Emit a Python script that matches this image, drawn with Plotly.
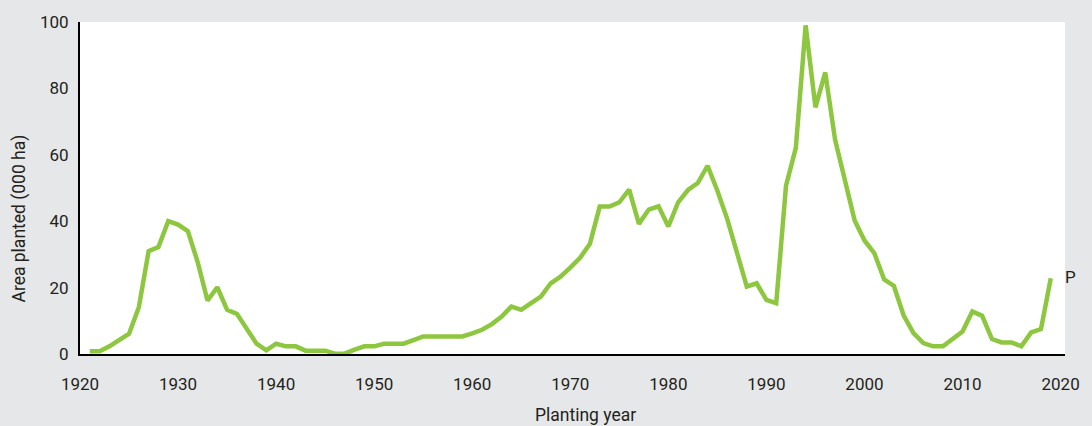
import plotly.graph_objects as go

# planting year and area planted (000 ha)
years = list(range(1921, 2020))
area = [
    0.8, 0.8, 2.3, 4.3, 6.1, 14.1, 31.0, 32.2, 40.0, 39.0,       # 1921-1930
    37.0, 27.7, 16.1, 20.1, 13.3, 12.1, 7.3, 3.1, 1.1, 3.1,      # 1931-1940
    2.3, 2.3, 1.0, 1.0, 1.0, 0.1, 0.1, 1.3, 2.3, 2.3,            # 1941-1950
    3.1, 3.1, 3.1, 4.2, 5.3, 5.3, 5.3, 5.3, 5.3, 6.2,            # 1951-1960
    7.3, 9.0, 11.3, 14.3, 13.3, 15.3, 17.3, 21.3, 23.3, 26.0,    # 1961-1970
    29.0, 33.2, 44.4, 44.4, 45.7, 49.5, 39.2, 43.5, 44.5, 38.4,  # 1971-1980
    45.7, 49.4, 51.5, 56.7, 49.2, 40.7, 30.6, 20.3, 21.3, 16.3,  # 1981-1990
    15.3, 50.7, 62.1, 99.0, 74.3, 84.8, 64.6, 51.7, 40.2, 34.2,  # 1991-2000
    30.4, 22.5, 20.5, 11.6, 6.3, 3.3, 2.3, 2.3, 4.5, 6.8,        # 2001-2010
    12.8, 11.5, 4.5, 3.5, 3.5, 2.3, 6.5, 7.5, 22.8,              # 2011-2019
]
x_ticks = [1920, 1930, 1940, 1950, 1960, 1970, 1980, 1990, 2000, 2010, 2020]
y_ticks = [0, 20, 40, 60, 80, 100]

font = "Roboto"
ink = "#231f20"

fig = go.Figure()
fig.add_trace(go.Scatter(
    x=years, y=area, mode="lines",
    line=dict(color="#8dc63f", width=4.5),
    showlegend=False, hoverinfo="skip",
))

# provisional marker for the last year
fig.add_annotation(
    x=years[-1], y=area[-1], text="P", showarrow=False,
    xanchor="left", xshift=12, yshift=1,
    font=dict(family=font, size=17, color=ink),
)

# axis titles sit a bit off-centre in the original, so place them by hand
fig.add_annotation(
    xref="paper", yref="paper", x=0.513, y=-0.183,
    text="Planting year", showarrow=False,
    xanchor="center", yanchor="middle",
    font=dict(family=font, size=17.5, color=ink),
)
fig.add_annotation(
    xref="paper", yref="paper", x=-0.0616, y=0.409,
    text="Area planted (000 ha)", showarrow=False, textangle=-90,
    xanchor="center", yanchor="middle",
    font=dict(family=font, size=17.5, color=ink),
)

fig.update_layout(
    width=1092, height=426,
    margin=dict(l=80, r=22, t=20, b=72),
    paper_bgcolor="#e6e7e8",
    plot_bgcolor="white",
    font=dict(family=font, size=17, color=ink),
)
fig.update_xaxes(
    range=[1920, 2020.45], tickvals=x_ticks, showgrid=False, zeroline=False,
    showline=True, linecolor="black", linewidth=2,
    ticks="", ticklabelstandoff=14,
)
fig.update_yaxes(
    range=[0, 100], tickvals=y_ticks, showgrid=False, zeroline=False,
    showline=True, linecolor="black", linewidth=2,
    ticks="", ticklabelstandoff=6,
)

fig.write_html(
    "out.html",
    config={"displayModeBar": False},
    post_script="document.body.style.margin='0px';",
)
